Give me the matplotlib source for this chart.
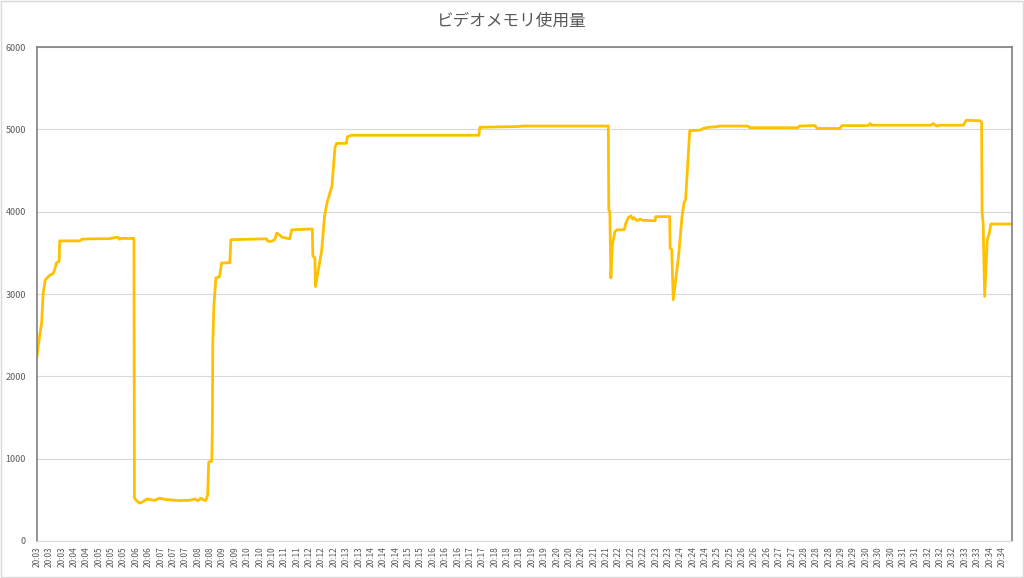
import matplotlib.pyplot as plt
from matplotlib.patches import Rectangle

plt.rcParams['font.family'] = ['Noto Sans CJK JP', 'DejaVu Sans']

title = 'ビデオメモリ使用量'

# sample index (1 sample ~ 1 s) and memory value at the breakpoints of the trace
sample_idx = [
    0, 2, 9, 12, 16, 25, 31, 34, 38, 43, 44, 83, 87, 102, 141, 151, 157, 160, 164, 188,
    189, 193, 199, 205, 213, 221, 228, 238, 248, 257, 277, 296, 306, 312, 318, 321, 327,
    331, 333, 339, 340, 341, 343, 347, 354, 358, 374, 376, 445, 448, 455, 461, 465, 471,
    475, 490, 494, 534, 535, 539, 540, 552, 558, 563, 570, 572, 578, 581, 600, 602, 610,
    857, 859, 937, 940, 1108, 1109, 1111, 1113, 1116, 1121, 1125, 1139, 1142, 1147, 1152,
    1155, 1158, 1164, 1170, 1175, 1199, 1200, 1227, 1228, 1231, 1234, 1244, 1251, 1255,
    1258, 1266, 1286, 1292, 1302, 1315, 1325, 1379, 1382, 1475, 1479, 1509, 1513, 1557,
    1561, 1612, 1616, 1619, 1734, 1738, 1745, 1751, 1797, 1802, 1829, 1832, 1833, 1835,
    1838, 1843, 1847, 1850, 1891,
]
memory = [
    2240, 2360, 2650, 3010, 3170, 3230, 3245, 3290, 3380, 3395, 3645, 3645, 3665, 3670,
    3672, 3685, 3690, 3665, 3675, 3675,
    520, 490, 460, 475, 510, 500, 495, 520, 505, 500, 490, 495, 510, 490, 520, 505, 490,
    555, 960, 970, 1310, 2400, 2850, 3195, 3210, 3375, 3380, 3660, 3670, 3640, 3640, 3660,
    3740, 3715, 3690, 3670, 3780, 3790, 3460, 3440, 3090, 3520, 3960, 4120, 4270, 4310,
    4780, 4830, 4830, 4910, 4928,
    4928, 5025, 5035, 5040, 5040, 4020, 4000, 3195, 3600, 3760, 3780, 3780, 3860, 3930,
    3950, 3910, 3925, 3890, 3910, 3895, 3890, 3940, 3940, 3555, 3540, 2930, 3440, 3940,
    4110, 4150, 4985, 4990, 5010, 5025, 5030, 5040, 5040, 5020, 5020, 5040, 5045, 5010,
    5010, 5045, 5045, 5070, 5050, 5050, 5070, 5040, 5050, 5050, 5110, 5105, 5085, 3990,
    3860, 2970, 3660, 3740, 3850, 3850,
]

# x tick labels: one label every 24 samples, minutes repeat 2 or 3 times
label_minutes = ['20:%02d' % m for m in range(3, 35)]
label_counts = [3, 2, 3, 2, 3, 2, 2, 3, 2, 3, 2, 3, 2, 3, 2, 3,
                2, 3, 2, 3, 2, 3, 2, 3, 2, 3, 2, 3, 2, 3, 2, 2]
tick_labels = [m for m, c in zip(label_minutes, label_counts) for _ in range(c)]
tick_step = 24

fig = plt.figure(figsize=(10.24, 5.78), dpi=100)
ax = fig.add_axes([37 / 1024, 1 - 541 / 578, 975 / 1024, 494 / 578])

ax.plot(sample_idx, memory, color='#FFC000', linewidth=2.0, solid_joinstyle='round')

ax.set_xlim(0, 1891)
ax.set_ylim(0, 6000)
ax.set_yticks(range(0, 6001, 1000))
ax.set_xticks([i * tick_step for i in range(len(tick_labels))])
ax.set_xticklabels(tick_labels, rotation=90, fontsize=6, color='#595959')
ax.tick_params(axis='y', labelsize=6.5, labelcolor='#595959', length=0, pad=8)
ax.tick_params(axis='x', length=0, pad=4)

ax.grid(axis='y', color='#d9d9d9', linewidth=0.8)
ax.set_axisbelow(True)
for side in ['left', 'top', 'right']:
    ax.spines[side].set_color('#808080')
    ax.spines[side].set_linewidth(1.2)
ax.spines['bottom'].set_color('#d9d9d9')
ax.spines['bottom'].set_linewidth(0.8)

fig.text(0.5, 1 - 21 / 578, title, ha='center', va='center', fontsize=12, color='#595959')

fig.patches.append(Rectangle((0.001, 0.001), 0.998, 0.998, transform=fig.transFigure,
                             fill=False, edgecolor='#d9d9d9', linewidth=1.0))

fig.savefig('out.png', dpi=100)
